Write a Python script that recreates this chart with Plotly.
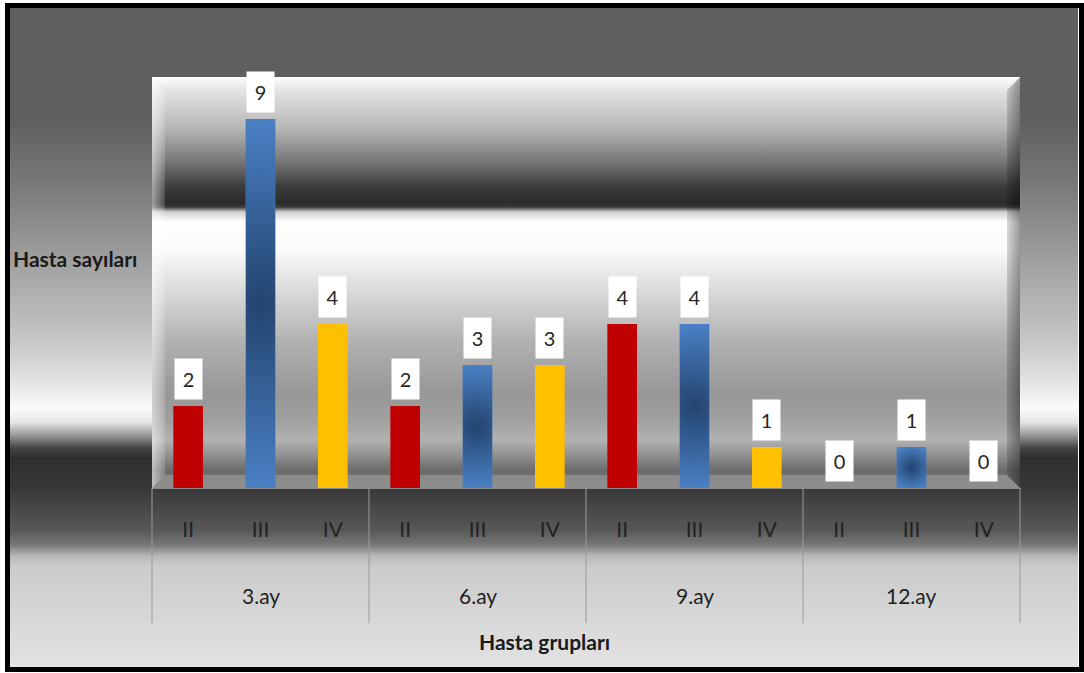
import base64
import plotly.graph_objects as go

# ---- data -------------------------------------------------------------
months = ["3.ay", "6.ay", "9.ay", "12.ay"]
grades = ["II", "III", "IV"]
grade_ii = [2, 2, 4, 0]
grade_iii = [9, 3, 4, 1]
grade_iv = [4, 3, 1, 0]
y_title = "Hasta sayıları"
x_title = "Hasta grupları"

series = {"II": grade_ii, "III": grade_iii, "IV": grade_iv}
colors = {"II": "#c00000", "III": "#4a7ebf", "IV": "#ffc000"}

# ---- geometry ---------------------------------------------------------
W, H = 1084, 673
L, R, T, B = 152, 64, 78, 185
PW, PH = W - L - R, H - T - B
Y_MAX = 10
BAR_W = 0.41
FONT = "Lato"


def svg_uri(svg):
    return "data:image/svg+xml;base64," + base64.b64encode(svg.encode("utf-8")).decode()


def stops(pairs, y0, y1):
    out = []
    for y, c in pairs:
        off = min(max((y - y0) / (y1 - y0), 0), 1)
        out.append(f'<stop offset="{off:.4f}" stop-color="{c}"/>')
    return "".join(out)


# metallic page background with the bevelled panel behind the plot area
outer = [(0, "#5f5f5f"), (120, "#5f5f5f"), (180, "#777777"), (255, "#9d9d9d"),
         (340, "#c6c6c6"), (385, "#e6e6e6"), (408, "#fbfbfb"), (422, "#e6e6e6"),
         (435, "#9a9a9a"), (448, "#454545"), (458, "#2f2f2f"), (485, "#363636"),
         (530, "#585858"), (545, "#777777"), (556, "#b8b8b8"), (566, "#cbcbcb"),
         (673, "#e4e4e4")]
px0, px1 = L, L + PW
py0, py1 = T - 1, T + PH
panel = [(py0, "#ffffff"), (92, "#e2e2e2"), (127, "#b8b8b8"), (160, "#7a7a7a"),
         (187, "#3c3c3c"), (203, "#2a2a2a"), (207, "#3a3a3a"), (212, "#d0d0d0"),
         (222, "#ffffff"), (250, "#fafafa"), (293, "#d8d8d8"), (343, "#b0b0b0"),
         (393, "#979797"), (420, "#a0a0a0"), (440, "#b2b2b2"), (458, "#8a8a8a"),
         (470, "#6c6c6c"), (py1, "#727272")]
bv = 13
bg_svg = f'''<svg xmlns="http://www.w3.org/2000/svg" width="{W}" height="{H}" viewBox="0 0 {W} {H}" preserveAspectRatio="none">
<defs>
<linearGradient id="outer" gradientUnits="userSpaceOnUse" x1="0" y1="0" x2="0" y2="{H}">{stops(outer, 0, H)}</linearGradient>
<linearGradient id="panel" gradientUnits="userSpaceOnUse" x1="0" y1="{py0}" x2="0" y2="{py1}">{stops(panel, py0, py1)}</linearGradient>
<linearGradient id="topb" x1="0" y1="0" x2="0" y2="1"><stop offset="0" stop-color="#ffffff"/><stop offset="1" stop-color="#e4e4e4"/></linearGradient>
<linearGradient id="leftb" x1="0" y1="0" x2="1" y2="0"><stop offset="0" stop-color="#ffffff" stop-opacity="0.55"/><stop offset="1" stop-color="#ffffff" stop-opacity="0.15"/></linearGradient>
<linearGradient id="rightb" x1="0" y1="0" x2="1" y2="0"><stop offset="0" stop-color="#000000" stop-opacity="0.15"/><stop offset="1" stop-color="#000000" stop-opacity="0.4"/></linearGradient>
</defs>
<rect x="0" y="0" width="{W}" height="{H}" fill="#ffffff"/>
<rect x="7" y="5" width="{W - 13}" height="{H - 10}" fill="url(#outer)"/>
<rect x="{px0}" y="{py0}" width="{px1 - px0}" height="{py1 - py0}" fill="url(#panel)"/>
<polygon points="{px0},{py0} {px0 + bv},{py0 + bv} {px0 + bv},{py1 - bv} {px0},{py1}" fill="url(#leftb)"/>
<polygon points="{px1},{py0} {px1 - bv},{py0 + bv} {px1 - bv},{py1 - bv} {px1},{py1}" fill="url(#rightb)"/>
<polygon points="{px0},{py1} {px0 + bv},{py1 - bv} {px1 - bv},{py1 - bv} {px1},{py1}" fill="#ffffff" fill-opacity="0.2"/>
<polygon points="{px0},{py0} {px1},{py0} {px1 - bv},{py0 + bv} {px0 + bv},{py0 + bv}" fill="url(#topb)"/>
<rect x="7.5" y="5.5" width="{W - 10}" height="{H - 9}" fill="none" stroke="#000000" stroke-width="5"/>
</svg>'''


def bar_shade(w_px, h_px):
    r = max(h_px / 2, w_px * 0.75)
    return f'''<svg xmlns="http://www.w3.org/2000/svg" width="{w_px:.2f}" height="{h_px:.2f}" viewBox="0 0 {w_px:.2f} {h_px:.2f}" preserveAspectRatio="none">
<defs><radialGradient id="g" gradientUnits="userSpaceOnUse" cx="{w_px / 2:.2f}" cy="{h_px / 2:.2f}" r="{r:.2f}">
<stop offset="0" stop-color="#23446f"/><stop offset="1" stop-color="#4a80c4"/></radialGradient></defs>
<rect width="{w_px:.2f}" height="{h_px:.2f}" fill="url(#g)"/></svg>'''


fig = go.Figure()
images = [dict(source=svg_uri(bg_svg), xref="paper", yref="paper",
               x=-L / PW, y=1 + T / PH, sizex=W / PW, sizey=H / PH,
               xanchor="left", yanchor="top", sizing="stretch", layer="below")]
annotations = []
n_cat = len(months) * len(grades)
unit_px = PW / n_cat

for gi, g in enumerate(grades):
    xs = [mi * len(grades) + gi for mi in range(len(months))]
    vals = series[g]
    fig.add_trace(go.Bar(x=xs, y=vals, width=BAR_W, name=g,
                         marker=dict(color=colors[g], line=dict(width=0)),
                         hoverinfo="x+y", showlegend=False))
    for x, v in zip(xs, vals):
        annotations.append(dict(x=x, y=v, xref="x", yref="y", text=str(v),
                                showarrow=False, yanchor="bottom", yshift=6,
                                width=27, height=40, bgcolor="#ffffff",
                                borderpad=0, font=dict(family=FONT, size=20, color="#262626")))
        if g == "III" and v > 0:
            images.append(dict(source=svg_uri(bar_shade(BAR_W * unit_px, v * PH / Y_MAX)),
                               xref="x", yref="y", x=x - BAR_W / 2, y=v,
                               sizex=BAR_W, sizey=v, xanchor="left", yanchor="top",
                               sizing="stretch", layer="above"))

# month group labels and dividers under the axis
for mi, m in enumerate(months):
    annotations.append(dict(x=mi * len(grades) + 1, y=0, xref="x", yref="paper",
                            text=m, showarrow=False, yanchor="middle", yshift=-107,
                            font=dict(family=FONT, size=21, color="#222222")))
shapes = []
for k in range(len(months) + 1):
    xp = k / len(months)
    shapes.append(dict(type="line", xref="paper", yref="paper", x0=xp, x1=xp,
                       y0=0, y1=-135 / PH, line=dict(color="#9a9a9a", width=1)))

annotations.append(dict(x=0, y=(T + PH - 258) / PH, xref="paper", yref="paper",
                        text=f"<b>{y_title}</b>", showarrow=False, xanchor="right",
                        yanchor="middle", xshift=-13,
                        font=dict(family=FONT, size=21, color="#1a1a1a")))
annotations.append(dict(x=(544 - L) / PW, y=0, xref="paper", yref="paper",
                        text=f"<b>{x_title}</b>", showarrow=False, xanchor="center",
                        yanchor="middle", yshift=-153,
                        font=dict(family=FONT, size=21, color="#1a1a1a")))

fig.update_layout(
    width=W, height=H,
    margin=dict(l=L, r=R, t=T, b=B, pad=0),
    paper_bgcolor="#ffffff", plot_bgcolor="rgba(0,0,0,0)",
    barmode="overlay",
    images=images, annotations=annotations, shapes=shapes,
    xaxis=dict(range=[-0.5, n_cat - 0.5], tickmode="array",
               tickvals=list(range(n_cat)), ticktext=grades * len(months),
               tickfont=dict(family=FONT, size=21, color="#222222"),
               ticks="", ticklabelstandoff=23, showgrid=False, zeroline=False,
               showline=True, linecolor="#8a8a8a", linewidth=1, fixedrange=True),
    yaxis=dict(range=[0, Y_MAX], showticklabels=False, showgrid=False,
               zeroline=False, showline=False, ticks="", fixedrange=True),
)

fig.write_html("out.html")
